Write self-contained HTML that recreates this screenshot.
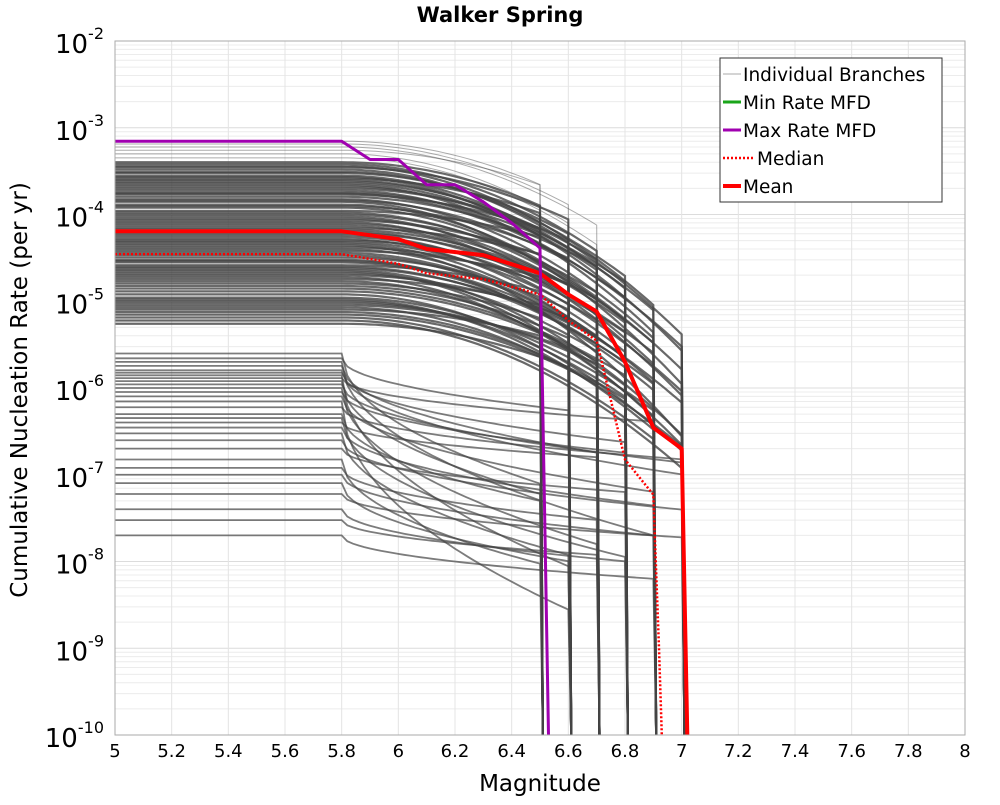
<!DOCTYPE html>
<html><head><meta charset="utf-8"><style>
body{margin:0;background:#fff;}
svg text{font-family:"DejaVu Sans","Liberation Sans",sans-serif;}
</style></head><body>
<svg id="chart" width="1000" height="800" viewBox="0 0 1000 800" xmlns="http://www.w3.org/2000/svg">
<defs><clipPath id="clip"><rect x="115" y="41" width="850" height="694"/></clipPath></defs>
<rect width="1000" height="800" fill="#fff"/>
<text x="500" y="22" text-anchor="middle" font-size="21" font-weight="bold">Walker Spring</text>
<g id="grid"></g>
<g id="branches" clip-path="url(#clip)"></g>
<g id="summary" clip-path="url(#clip)"></g>
<rect x="115" y="41" width="850" height="694" fill="none" stroke="#aaa" stroke-width="1"/>
<g id="ticks"></g>
<text x="540" y="791" text-anchor="middle" font-size="23">Magnitude</text>
<text x="0" y="0" transform="translate(27,390) rotate(-90)" text-anchor="middle" font-size="23">Cumulative Nucleation Rate (per yr)</text>
<g id="legend">
<rect x="720" y="58" width="222" height="144" fill="#fff" stroke="#333" stroke-width="1"/>
<line x1="723" y1="74" x2="741" y2="74" stroke="#aaa" stroke-width="1"/>
<text x="743" y="81" font-size="18.5">Individual Branches</text>
<line x1="723" y1="102" x2="741" y2="102" stroke="#1aa51a" stroke-width="3"/>
<text x="743" y="109" font-size="18.5">Min Rate MFD</text>
<line x1="723" y1="130" x2="741" y2="130" stroke="#a000b0" stroke-width="3"/>
<text x="743" y="137" font-size="18.5">Max Rate MFD</text>
<line x1="723" y1="158" x2="754" y2="158" stroke="#f00" stroke-width="2.5" stroke-dasharray="2,2"/>
<text x="757" y="165" font-size="18.5">Median</text>
<line x1="723" y1="186" x2="741" y2="186" stroke="#f00" stroke-width="4"/>
<text x="743" y="193" font-size="18.5">Mean</text>
</g>
</svg>
<script>
const xTicks=[5,5.2,5.4,5.6,5.8,6,6.2,6.4,6.6,6.8,7,7.2,7.4,7.6,7.8,8];
const yExps=[-2,-3,-4,-5,-6,-7,-8,-9,-10];
const maxMags=[5,5.8,5.9,6.0,6.1,6.2,6.3,6.4,6.5,6.53];
const maxRates=[7e-4,7e-4,4.3e-4,4.3e-4,2.2e-4,2.2e-4,1.4e-4,8e-5,4.1e-5,1e-10];
const meanMags=[5,5.8,6.0,6.1,6.3,6.5,6.6,6.7,6.8,6.9,7.0,7.02];
const meanRates=[6.4e-5,6.4e-5,5.2e-5,4.0e-5,3.4e-5,2.1e-5,1.2e-5,7.6e-6,2.0e-6,3.5e-7,2.0e-7,1e-10];
const medMags=[5,5.8,6.0,6.1,6.3,6.5,6.6,6.7,6.8,6.9,6.92,6.93];
const medRates=[3.5e-5,3.5e-5,2.7e-5,2.1e-5,1.8e-5,1.2e-5,6e-6,3.5e-6,1.5e-7,5.9e-8,1e-9,1e-10];
const hiRates=[70,65,60,55,50,45,40,38,36,35,33,31,30,28,27,26,25,24,23,22,21,20,19,18,17.5,17,16,15,14.5,14,13,12.5,12,11,10.5,10,9.5,9,8.6,8.2,7.8,7.4,7,6.7,6.4,6.1,5.8,5.5,5.2,5,4.8,4.6,4.4,4.2,4,3.8,3.6,3.4,3.2,3,2.9,2.8,2.6,2.5,2.4,2.3,2.2,2.1,2,1.9,1.8,1.7,1.6,1.5,1.4,1.3,1.2,1.1,1.05,1,0.95,0.9,0.85,0.8,0.75,0.7,0.65,0.6,0.55];
const hiCuts=[6.5,6.6,6.7,6.5,6.6,6.7,6.5,6.7,6.9,6.6,7.0,6.8,6.6,6.8,7.0,6.5,6.9,6.7,6.7,6.9,6.8,6.6,7.0,6.5,6.8,6.5,6.7,6.9,6.6,7.0,7.0,6.6,6.8,6.5,6.9,6.7,6.9,6.8,6.5,7.0,6.6,6.7,6.5,6.7,6.9,6.6,7.0,6.8,6.8,6.6,6.7,6.9,7.0,6.5,6.7,6.5,6.8,7.0,6.6,6.9,6.6,6.9,6.5,6.8,6.7,7.0,7.0,6.7,6.6,6.9,6.5,6.8,6.5,6.6,6.8,6.7,7.0,6.9,6.9,6.8,6.7,6.6,7.0,6.5,6.8,6.7,6.9,7.0,6.6,6.5];
const hiDrops=[0.5,0.7,0.9,0.4,0.8,1.0,0.5,1.0,1.6,0.6,1.9,1.2,0.7,1.3,2.0,0.4,1.5,0.9,1.0,1.7,1.1,0.6,1.8,0.5,1.2,0.4,0.8,1.6,0.7,2.1,1.9,0.6,1.3,0.3,1.5,0.9,1.7,1.2,0.4,2.0,0.7,1.0,0.3,0.8,1.4,0.6,1.8,1.1,1.3,0.5,0.9,1.6,2.2,0.4,1.0,0.3,1.2,1.7,0.6,1.5,0.7,1.4,0.3,1.1,0.8,1.9,2.0,0.9,0.5,1.6,0.3,1.2,0.4,0.6,1.0,0.8,1.8,1.3,1.5,1.1,0.7,0.5,1.6,0.3,1.0,0.8,1.4,1.7,0.5,0.3];
const loRates=[25,22,20,18,16,15,14,13,12,11,10,9,8,7,6,5,4.5,4,3.5,3,2.5,2,1.5,1.2,1,0.8,0.6,0.4,0.3,0.2];
const loCuts=[6.5,6.6,6.9,6.7,7.0,6.8,6.6,6.9,6.5,7.0,6.7,6.8,6.9,6.6,7.0,6.5,6.8,6.7,6.9,6.6,7.0,6.8,6.5,6.7,6.9,6.6,7.0,6.8,6.7,6.9];
const loDrops=[1.5,0.6,2.0,1.0,1.2,0.8,2.2,0.5,1.3,0.9,1.8,0.7,1.1,2.4,0.6,1.0,1.6,0.4,0.9,1.4,0.8,0.5,1.2,0.6,0.7,0.9,0.5,0.6,0.4,0.5];

const X0=115,X1=965,Y0=41,Y1=735;
const xs=m=>X0+(m-5)/3*(X1-X0);
const ys=r=>Y0+(-2-Math.log10(r))/8*(Y1-Y0);
const NS='http://www.w3.org/2000/svg';
function mk(tag,parent,attrs){const e=document.createElementNS(NS,tag);for(const k in attrs)e.setAttribute(k,attrs[k]);parent.appendChild(e);return e;}
const grid=document.getElementById('grid');
for(let e=-10;e<-2;e++){for(let k=1;k<10;k++){const y=ys(k*Math.pow(10,e));
 const l=mk('line',grid,{x1:X0,x2:X1,y1:y,y2:y,stroke:k==1?'#dcdcdc':'#ececec','stroke-width':1});
 
 }}
xTicks.forEach(m=>{const l=mk('line',grid,{x1:xs(m),x2:xs(m),y1:Y0,y2:Y1,stroke:'#e4e4e4','stroke-width':1});
 
 });
const ticks=document.getElementById('ticks');
xTicks.forEach(m=>{const t=mk('text',ticks,{x:xs(m),y:757,'text-anchor':'middle','font-size':18});t.textContent=String(m);
 
 });
yExps.forEach(e=>{const y=ys(Math.pow(10,e));const t=mk('text',ticks,{x:104,y:y+12,'text-anchor':'end','font-size':26});
 
 
 t.textContent='10';const s=mk('tspan',t,{dy:-14,'font-size':16});s.textContent=String(e);});
const br=document.getElementById('branches');
function branch(r0,cut,drop,p,col,op,w){let d='M'+xs(5)+','+ys(r0)+' L'+xs(5.8)+','+ys(r0);
 for(let m=5.82;m<=cut+1e-9;m+=0.02){const f=(m-5.8)/(cut-5.8);d+=' L'+xs(m).toFixed(1)+','+ys(r0*Math.pow(10,-drop*Math.pow(f,p))).toFixed(1);}
 d+=' L'+xs(cut+0.01).toFixed(1)+','+(Y1+5);
 const el=mk('path',br,{d:d,fill:'none',stroke:col,'stroke-opacity':op,'stroke-width':w});
 
 }
hiRates.forEach((r,i)=>branch(r*1e-5,hiCuts[i],hiDrops[i],2,'#444',i<6?0.45:0.8,i<6?1:2.2));
loRates.forEach((r,i)=>branch(r*1e-7,loCuts[i],loDrops[i],0.5,'#444',0.7,1.8));
const sm=document.getElementById('summary');
function curve(ms,rs,col,w,dash,name){let d='';ms.forEach((m,i)=>{d+=(i?' L':'M')+xs(m).toFixed(1)+','+ys(rs[i]).toFixed(1);});
 const a={d:d,fill:'none',stroke:col,'stroke-width':w,'stroke-linejoin':'round'};if(dash)a['stroke-dasharray']=dash;
 const el=mk('path',sm,a);
 
 }
curve(medMags,medRates,'#f00',2.5,'2,2','median-curve');
curve(meanMags,meanRates,'#f00',4,null,'mean-curve');
curve(maxMags,maxRates,'#a000b0',3,null,'max-rate-curve');
</script>
</body></html>
